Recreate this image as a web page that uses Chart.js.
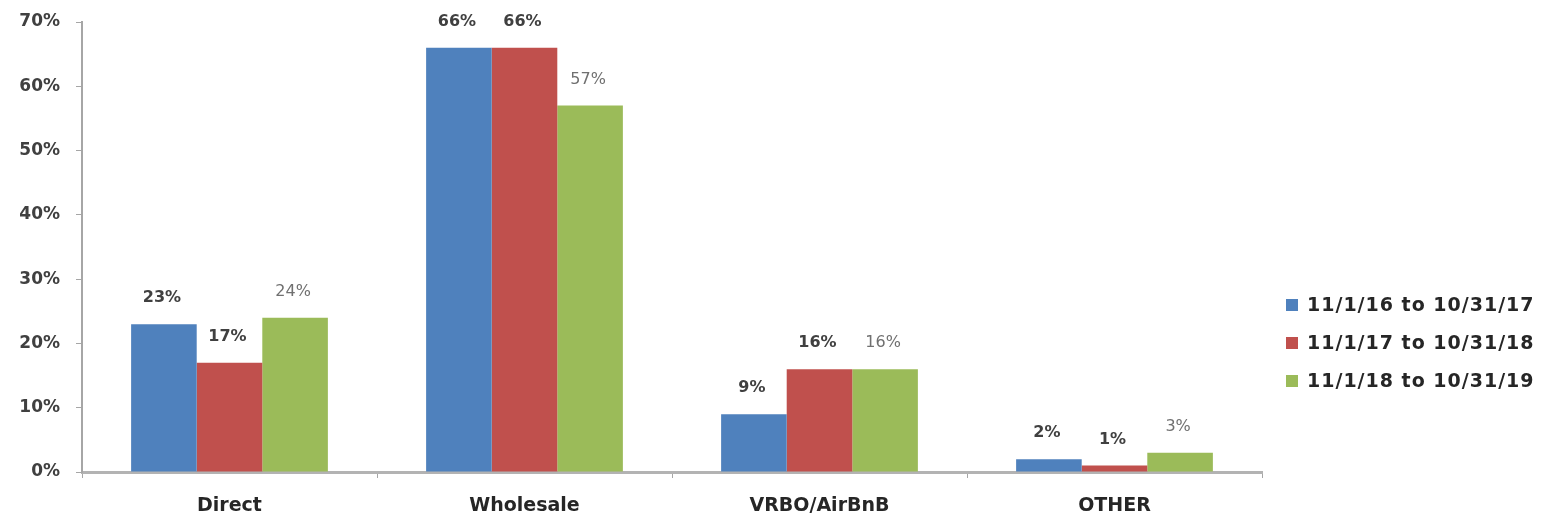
<!DOCTYPE html>
<html>
<head>
<meta charset="utf-8">
<script src="https://cdn.jsdelivr.net/npm/chart.js@4"></script>
<style>
    html, body { margin: 0; padding: 0; background: #fff; }
    #wrap { position: relative; width: 1554px; height: 521px; }
</style>
</head>
<body>
<div id="wrap"><canvas id="share-chart" width="1554" height="521"></canvas></div>
<script>
// Chart data
const categories = ['Direct', 'Wholesale', 'VRBO/AirBnB', 'OTHER'];
const seriesNames = ['11/1/16 to 10/31/17', '11/1/17 to 10/31/18', '11/1/18 to 10/31/19'];
const period1 = [23, 66, 9, 2];
const period2 = [17, 66, 16, 1];
const period3 = [24, 57, 16, 3];
const yTicks = [0, 10, 20, 30, 40, 50, 60, 70];

const colors = ['#4F81BD', '#C0504D', '#9BBB59'];
const FONT = '"DejaVu Sans", sans-serif';
const labelFonts = ['bold 16px ' + FONT, 'bold 16px ' + FONT, '16px ' + FONT];
const labelColors = ['#404040', '#404040', '#707070'];

/**
 * Value labels drawn above each bar
 */
const valueLabels = {
    id: 'valueLabels',
    afterDatasetsDraw(chart) {
        const ctx = chart.ctx;
        ctx.save();
        ctx.textAlign = 'center';
        ctx.textBaseline = 'middle';
        chart.data.datasets.forEach((ds, i) => {
            const meta = chart.getDatasetMeta(i);
            ctx.font = labelFonts[i];
            ctx.fillStyle = labelColors[i];
            meta.data.forEach((bar, j) => {
                ctx.fillText(ds.data[j] + '%', bar.x - 2, bar.y - 26);
            });
        });
        ctx.restore();
    }
};

/**
 * Legend on the right, drawn by hand to sit at the same height as the original
 */
const sideLegend = {
    id: 'sideLegend',
    afterDraw(chart) {
        const ctx = chart.ctx;
        ctx.save();
        ctx.font = 'bold 19px ' + FONT;
        ctx.letterSpacing = '1px';
        ctx.textBaseline = 'middle';
        ctx.textAlign = 'left';
        chart.data.datasets.forEach((ds, i) => {
            const y = 305 + i * 38;
            ctx.fillStyle = ds.backgroundColor;
            ctx.fillRect(1286, y - 6, 12, 12);
            ctx.fillStyle = '#262626';
            ctx.fillText(ds.label, 1307, y + 1);
        });
        ctx.restore();
    }
};

const ctx = document.getElementById('share-chart').getContext('2d');
const seriesData = [period1, period2, period3];

new Chart(ctx, {
    type: 'bar',
    data: {
        labels: categories,
        datasets: seriesNames.map((name, i) => ({
            label: name,
            data: seriesData[i],
            backgroundColor: colors[i],
            borderWidth: 0,
            categoryPercentage: 0.667,
            barPercentage: 1.0
        }))
    },
    options: {
        responsive: false,
        animation: false,
        layout: {
            padding: { top: 22, right: 292, left: 0, bottom: 0 }
        },
        plugins: {
            legend: { display: false },
            tooltip: { enabled: false }
        },
        scales: {
            x: {
                grid: {
                    display: true,
                    drawOnChartArea: false,
                    drawTicks: true,
                    tickLength: 6,
                    color: '#a6a6a6',
                    offset: true
                },
                border: { color: '#b3b3b3', width: 3 },
                ticks: {
                    padding: 17,
                    color: '#262626',
                    font: { family: FONT, size: 19, weight: 'bold' }
                },
                afterFit(scale) {
                    scale.height = 49;
                    scale.paddingLeft = 0;
                    scale.paddingRight = 0;
                }
            },
            y: {
                min: 0,
                max: 70,
                afterBuildTicks(scale) {
                    scale.ticks = yTicks.map(v => ({ value: v }));
                },
                grid: {
                    display: true,
                    drawOnChartArea: false,
                    drawTicks: true,
                    tickLength: 6,
                    color: '#a6a6a6'
                },
                border: { color: '#a6a6a6', width: 2 },
                ticks: {
                    padding: 16,
                    color: '#404040',
                    font: { family: FONT, size: 17, weight: 'bold' },
                    callback: function(value) {
                        return value + '%';
                    }
                },
                afterFit(scale) {
                    scale.width = 82;
                    scale.paddingTop = 0;
                    scale.paddingBottom = 0;
                }
            }
        }
    },
    plugins: [valueLabels, sideLegend]
});
</script>
</body>
</html>
